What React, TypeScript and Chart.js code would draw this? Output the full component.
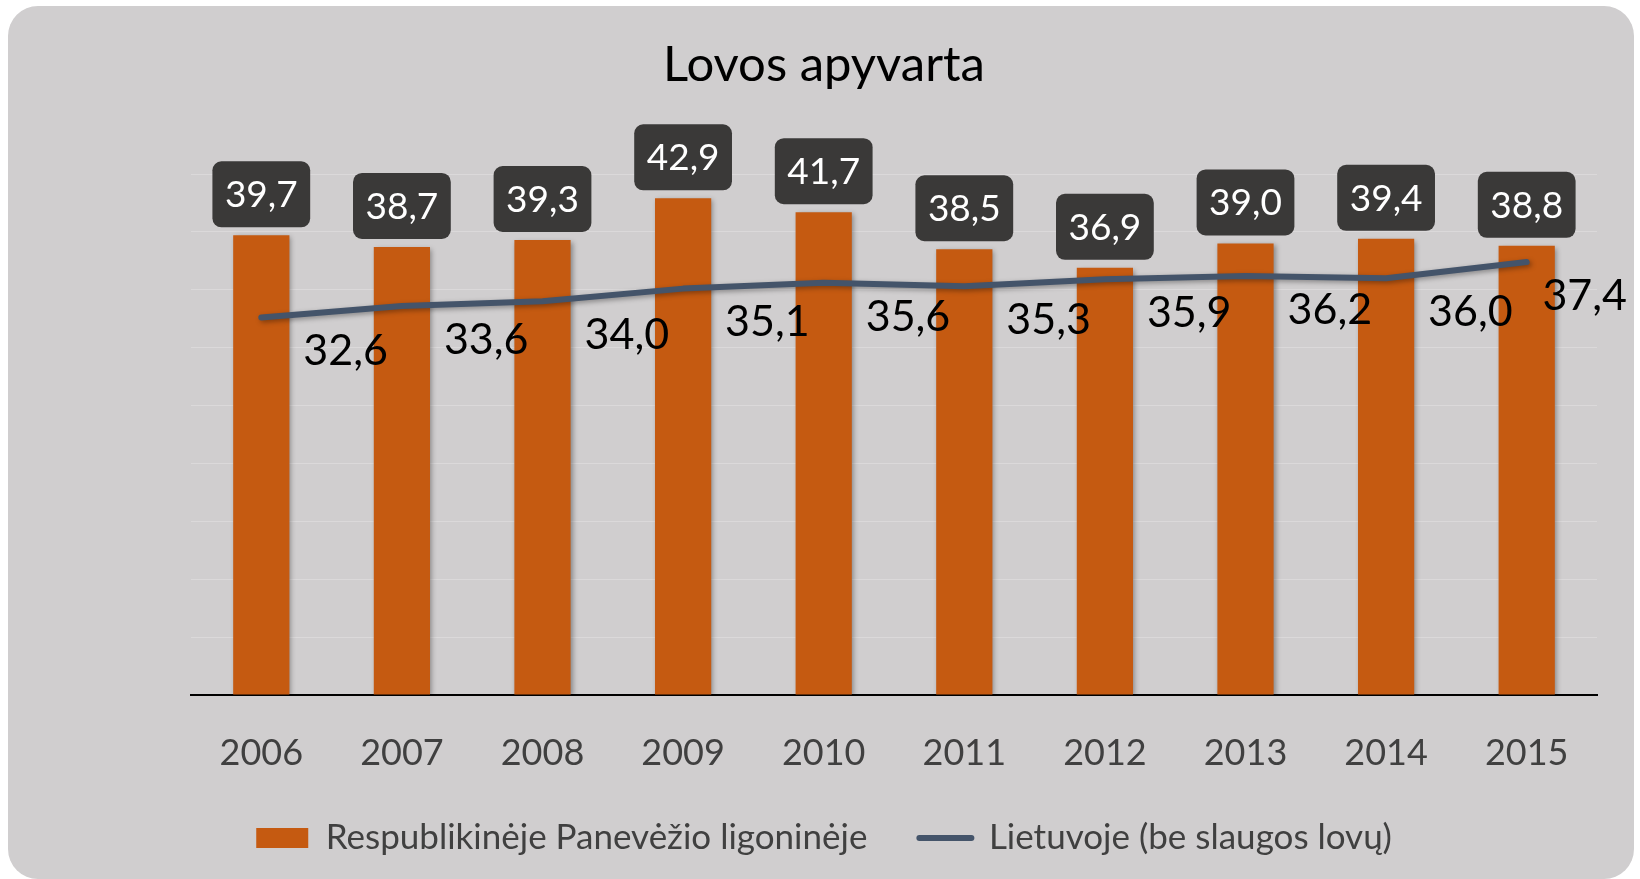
import React, { useEffect, useRef } from 'react';
import { Chart, registerables } from 'chart.js';

Chart.register(...registerables);

// ---- data ----
const years = ['2006', '2007', '2008', '2009', '2010', '2011', '2012', '2013', '2014', '2015'];
const hospitalValues = [39.7, 38.7, 39.3, 42.9, 41.7, 38.5, 36.9, 39.0, 39.4, 38.8];
const lithuaniaValues = [32.6, 33.6, 34.0, 35.1, 35.6, 35.3, 35.9, 36.2, 36.0, 37.4];
const seriesNames = ['Respublikinėje Panevėžio ligoninėje', 'Lietuvoje (be slaugos lovų)'];
const chartTitle = 'Lovos apyvarta';
const yMin = 0;
const yMax = 45;
const yStep = 5;

// ---- styles ----
const BAR_COLOR = '#c55a11';
const LINE_COLOR = '#44546a';
const LABEL_BOX = '#3a3938';
const FONT = 'Lato';

const fmt = (v: number) => v.toFixed(1).replace('.', ',');

const shadowPlugin = {
  id: 'shadow',
  beforeDatasetDraw(chart: any) {
    const ctx = chart.ctx;
    ctx.save();
    ctx.shadowColor = 'rgba(0,0,0,0.35)';
    ctx.shadowBlur = 5;
    ctx.shadowOffsetX = 2;
    ctx.shadowOffsetY = 2;
  },
  afterDatasetDraw(chart: any) {
    chart.ctx.restore();
  },
};

const labelPlugin = {
  id: 'valueLabels',
  afterDatasetsDraw(chart: any) {
    const ctx = chart.ctx;
    ctx.save();
    // bar labels in dark rounded boxes
    const barMeta = chart.getDatasetMeta(0);
    ctx.font = `37px ${FONT}`;
    ctx.textAlign = 'center';
    ctx.textBaseline = 'middle';
    barMeta.data.forEach((el: any, i: number) => {
      const text = fmt(chart.data.datasets[0].data[i]);
      const tw = ctx.measureText(text).width;
      const w = tw + 25;
      const h = 66;
      const x = el.x - w / 2;
      const y = el.y - 8 - h;
      ctx.fillStyle = LABEL_BOX;
      ctx.beginPath();
      ctx.roundRect(x, y, w, h, 9);
      ctx.fill();
      ctx.fillStyle = '#ffffff';
      ctx.fillText(text, el.x, y + h / 2 + 1);
    });
    // line labels, to the lower right of each point
    const lineMeta = chart.getDatasetMeta(1);
    ctx.font = `43px ${FONT}`;
    ctx.textAlign = 'left';
    ctx.fillStyle = '#000000';
    lineMeta.data.forEach((pt: any, i: number) => {
      const text = fmt(chart.data.datasets[1].data[i]);
      const tw = ctx.measureText(text).width;
      let x = pt.x + 42;
      if (x + tw > chart.width - 7) x = chart.width - 7 - tw;
      ctx.fillText(text, x, pt.y + 34);
    });
    ctx.restore();
  },
};

export default function App() {
  const ref = useRef<HTMLCanvasElement>(null);

  useEffect(() => {
    const canvas = ref.current;
    if (!canvas) return;
    const chart = new Chart(canvas, {
      type: 'bar',
      data: {
        labels: years,
        datasets: [
          {
            type: 'bar',
            label: seriesNames[0],
            data: hospitalValues,
            backgroundColor: BAR_COLOR,
            categoryPercentage: 0.8,
            barPercentage: 0.5,
            order: 1,
          },
          {
            type: 'line',
            label: seriesNames[1],
            data: lithuaniaValues,
            borderColor: LINE_COLOR,
            backgroundColor: LINE_COLOR,
            borderWidth: 6,
            borderCapStyle: 'round',
            borderJoinStyle: 'round',
            pointRadius: 0,
            tension: 0,
            fill: false,
            order: 0,
          },
        ],
      } as any,
      options: {
        responsive: false,
        animation: false,
        layout: { padding: { left: 43, right: 37, top: 0, bottom: 13.5 } },
        plugins: {
          title: {
            display: true,
            text: chartTitle,
            color: '#000000',
            font: { family: FONT, size: 49, weight: 'normal' },
            padding: { top: 29.6, bottom: 79.6 },
          },
          legend: {
            display: true,
            position: 'bottom',
            labels: {
              usePointStyle: true,
              pointStyleWidth: 52,
              boxHeight: 20,
              padding: 52,
              color: '#404040',
              font: { family: FONT, size: 35 },
              generateLabels: () => [
                {
                  text: seriesNames[0],
                  fillStyle: BAR_COLOR,
                  strokeStyle: BAR_COLOR,
                  lineWidth: 0,
                  pointStyle: 'rect',
                  hidden: false,
                  datasetIndex: 0,
                  fontColor: '#404040',
                },
                {
                  text: seriesNames[1],
                  fillStyle: LINE_COLOR,
                  strokeStyle: LINE_COLOR,
                  lineWidth: 6,
                  lineCap: 'round',
                  pointStyle: 'line',
                  hidden: false,
                  datasetIndex: 1,
                  fontColor: '#404040',
                },
              ],
            },
          },
          tooltip: { enabled: false },
        },
        scales: {
          x: {
            grid: { display: false },
            border: { display: true, color: '#000000', width: 2 },
            ticks: { color: '#404040', font: { family: FONT, size: 36 }, padding: 29 },
            afterFit: (s: any) => {
              s.height = 73.5;
            },
          },
          y: {
            min: yMin,
            max: yMax,
            ticks: { display: false, stepSize: yStep },
            grid: {
              color: (c: any) => (c.tick && c.tick.value === 0 ? 'rgba(0,0,0,0)' : '#dbd9da'),
              lineWidth: 1,
              drawTicks: false,
            },
            border: { display: false },
            afterFit: (s: any) => {
              s.width = 140;
            },
          },
        },
      } as any,
      plugins: [shadowPlugin, labelPlugin],
    });
    return () => chart.destroy();
  }, []);

  return (
    <div
      style={{
        position: 'fixed',
        left: 8,
        top: 6,
        width: 1626,
        height: 873,
        borderRadius: 30,
        background: '#d0cecf',
        overflow: 'hidden',
      }}
    >
      <canvas ref={ref} width={1626} height={873} style={{ display: 'block' }} />
    </div>
  );
}
